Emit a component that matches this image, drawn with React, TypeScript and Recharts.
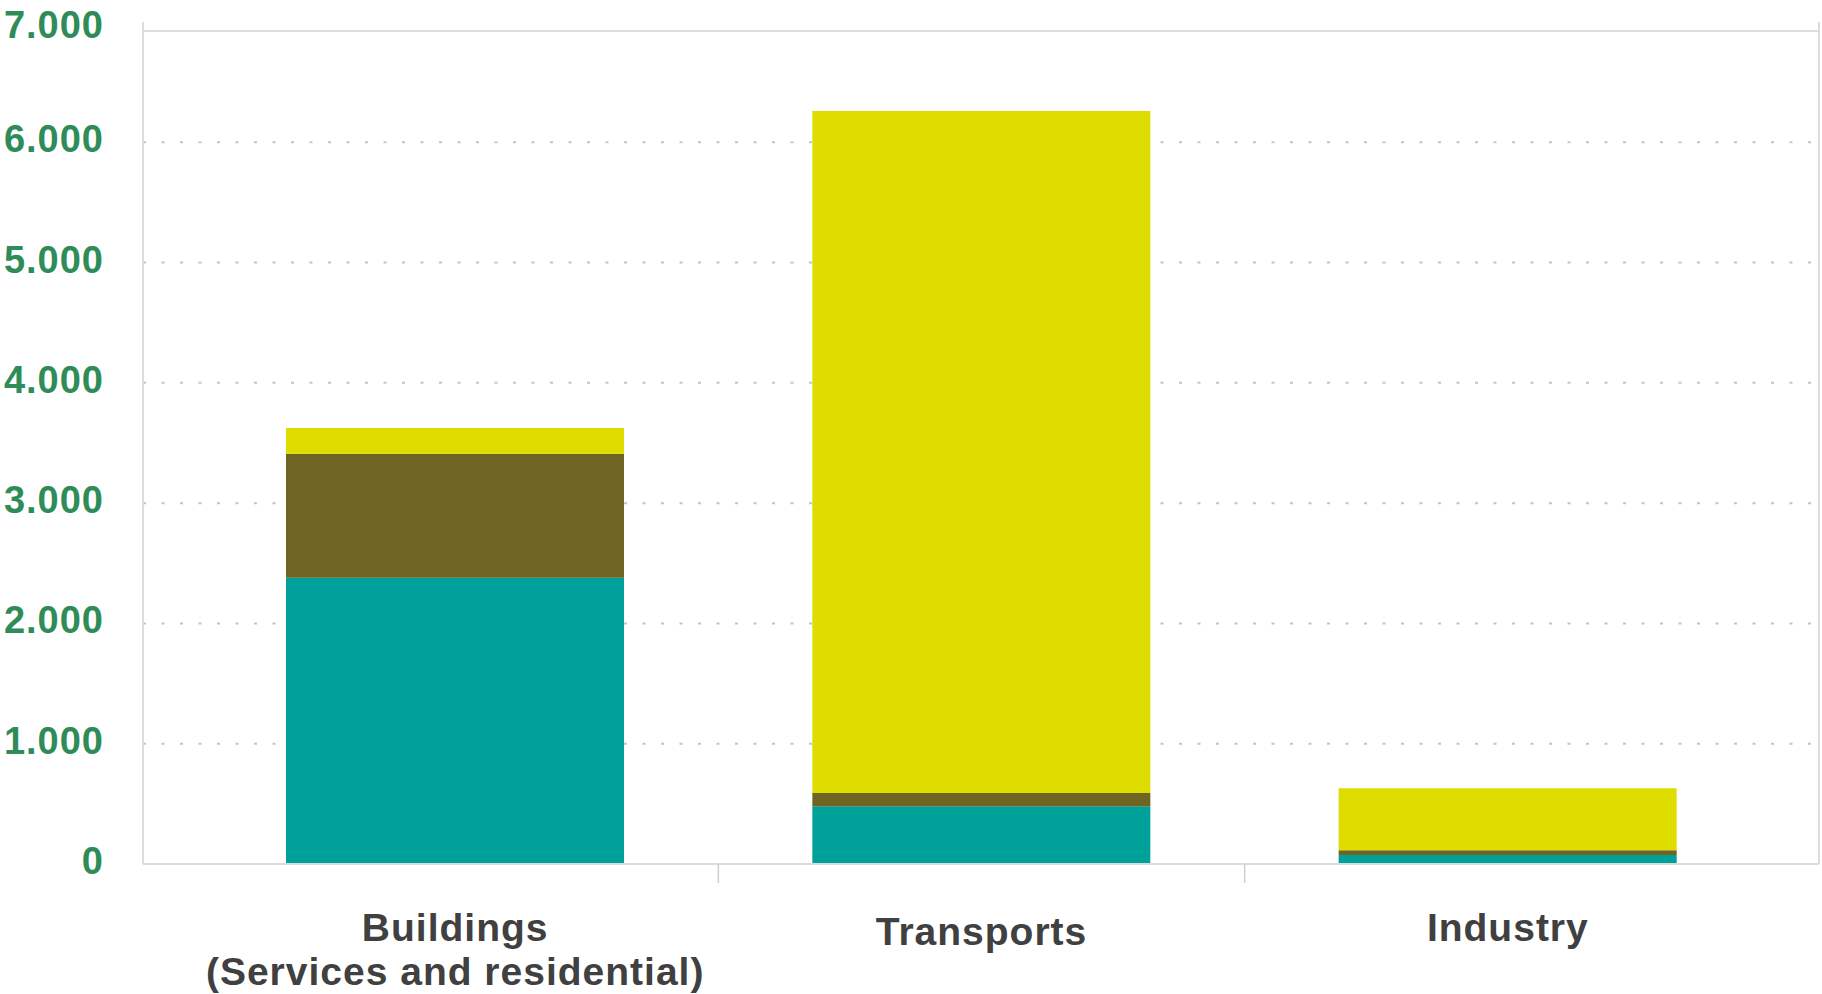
import { Bar, BarChart, CartesianGrid, ReferenceLine, XAxis, YAxis } from "recharts";

const sectors = ["Buildings", "Transports", "Industry"];
const sectorNotes = ["(Services and residential)", "", ""];
const tealValues = [2380, 480, 75];
const brownValues = [1030, 110, 40];
const yellowValues = [215, 5670, 515];
const yTicks = [0, 1000, 2000, 3000, 4000, 5000, 6000, 7000];
const sectorBoundaries = [1, 2];

const data = sectors.map((sector, i) => ({
  sector,
  slot: i + 0.5,
  teal: tealValues[i],
  brown: brownValues[i],
  yellow: yellowValues[i],
}));

const font = "'Liberation Sans', Arial, Helvetica, sans-serif";

const formatThousands = (v: number) => (v === 0 ? "0" : `${Math.floor(v / 1000)}.${String(v % 1000).padStart(3, "0")}`);

function SectorTick({ x, y, payload, index }: any) {
  const note = sectorNotes[index ?? 0];
  const extra = payload.value === "Transports" ? 4 : 0;
  return (
    <g>
      <text x={x} y={y + 57 + extra} textAnchor="middle" fontFamily={font} fontWeight={700} fontSize={39} letterSpacing={1} fill="#404040">
        {payload.value}
      </text>
      {note ? (
        <text x={x} y={y + 101} textAnchor="middle" fontFamily={font} fontWeight={700} fontSize={39} letterSpacing={1} fill="#404040">
          {note}
        </text>
      ) : null}
    </g>
  );
}

function ValueTick({ x, y, payload }: any) {
  // top label sits right at the page edge, nudge it down a bit so it stays inside
  const shift = payload.value === 7000 ? 3 : -3;
  return (
    <text x={x} y={y + 13 + shift} textAnchor="end" fontFamily={font} fontWeight={700} fontSize={38} letterSpacing={1} fill="#2f8c58">
      {formatThousands(payload.value)}
    </text>
  );
}

function SeparatorTick({ x, y }: any) {
  return <line x1={x} x2={x} y1={y - 19} y2={y} stroke="#cfcfcf" strokeWidth={1.5} />;
}

export default function App() {
  return (
    <div style={{ position: "absolute", left: 0, top: 0, width: 1822, height: 994, background: "#fff" }}>
      <BarChart width={1822} height={994} data={data} margin={{ top: 22, right: 2, bottom: 0, left: 0 }}>
        <CartesianGrid
          xAxisId="b_cat"
          yAxisId="left"
          vertical={false}
          horizontalValues={[1000, 2000, 3000, 4000, 5000, 6000]}
          stroke="#c4c4c4"
          strokeWidth={2}
          strokeDasharray="3 15.5"
        />
        <XAxis
          xAxisId="a_sep"
          dataKey="slot"
          type="number"
          domain={[0, 3]}
          allowDataOverflow
          ticks={sectorBoundaries}
          interval={0}
          height={20}
          padding={{ left: 49, right: 48 }}
          axisLine={{ stroke: "#dcdcdc", strokeWidth: 2 }}
          tickLine={false}
          tickSize={19}
          tickMargin={0}
          tick={<SeparatorTick />}
        />
        <XAxis
          xAxisId="b_cat"
          dataKey="sector"
          height={110}
          padding={{ left: 49, right: 48 }}
          axisLine={false}
          tickLine={false}
          tickSize={0}
          tickMargin={0}
          interval={0}
          tick={<SectorTick />}
        />
        <YAxis
          yAxisId="left"
          width={143}
          domain={[0, 7000]}
          ticks={yTicks}
          interval={0}
          axisLine={{ stroke: "#dcdcdc", strokeWidth: 2 }}
          tickLine={false}
          tickSize={0}
          tickMargin={39}
          tick={<ValueTick />}
        />
        <YAxis
          yAxisId="right"
          orientation="right"
          width={1}
          domain={[0, 7000]}
          tick={false}
          tickLine={false}
          axisLine={{ stroke: "#dcdcdc", strokeWidth: 2 }}
        />
        <ReferenceLine xAxisId="b_cat" yAxisId="left" y={6925} stroke="#dcdcdc" strokeWidth={2} />
        <Bar xAxisId="b_cat" yAxisId="left" dataKey="teal" stackId="a" fill="#00a19a" barSize={338} isAnimationActive={false} />
        <Bar xAxisId="b_cat" yAxisId="left" dataKey="brown" stackId="a" fill="#6e6522" barSize={338} isAnimationActive={false} />
        <Bar xAxisId="b_cat" yAxisId="left" dataKey="yellow" stackId="a" fill="#dfdc00" barSize={338} isAnimationActive={false} />
      </BarChart>
    </div>
  );
}
